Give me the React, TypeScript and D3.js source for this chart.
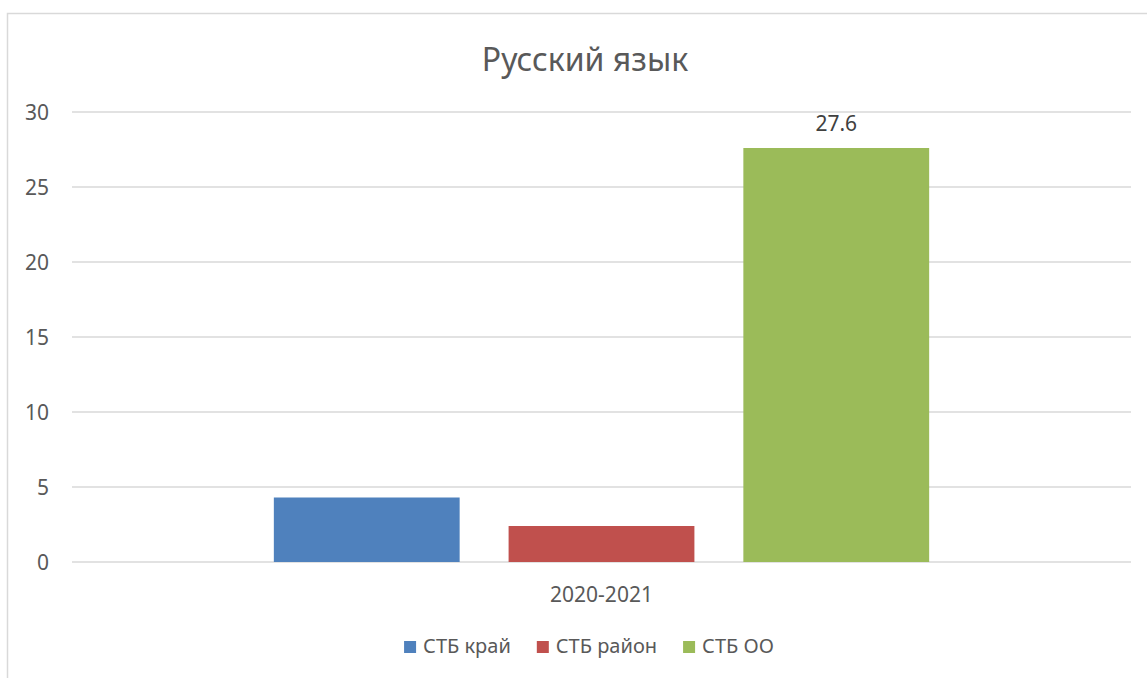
import * as d3 from "d3";
import React, { useEffect, useRef } from "react";

const chartTitle = "Русский язык";
const categories = ["2020-2021"];
const seriesNames = ["СТБ край", "СТБ район", "СТБ ОО"];
const seriesValues = [4.3, 2.4, 27.6];
const seriesColors = ["#4F81BD", "#C0504D", "#9BBB59"];
const showLabel = [false, false, true];
const yTicks = [0, 5, 10, 15, 20, 25, 30];

const width = 1147;
const height = 678;
const font = "'Noto Sans', sans-serif";

const App = () => {
  const ref = useRef<SVGSVGElement>(null);

  useEffect(() => {
    const svg = d3.select(ref.current);
    svg.selectAll("*").remove();

    const left = 72;
    const right = 1131;
    const top = 112;
    const bottom = 562;

    // chart frame (cut off on the right and bottom, like the source image)
    svg
      .append("rect")
      .attr("x", 7.5)
      .attr("y", 13.5)
      .attr("width", 1200)
      .attr("height", 700)
      .attr("fill", "#fff")
      .attr("stroke", "#d9d9d9")
      .attr("stroke-width", 1.5);

    svg
      .append("text")
      .attr("x", 585)
      .attr("y", 71)
      .attr("text-anchor", "middle")
      .attr("fill", "#595959")
      .style("font-family", font)
      .style("font-size", "32px")
      .text(chartTitle);

    const y = d3.scaleLinear().domain([0, 30]).range([bottom, top]);
    const x0 = d3
      .scaleBand()
      .domain(categories)
      .range([left, right])
      .paddingInner(0)
      .paddingOuter(0.308);
    const x1 = d3
      .scaleBand()
      .domain(seriesNames)
      .range([0, x0.bandwidth()])
      .paddingInner(0.2085)
      .paddingOuter(0);

    // grid
    svg
      .append("g")
      .selectAll("line")
      .data(yTicks)
      .join("line")
      .attr("x1", left)
      .attr("x2", right)
      .attr("y1", (d) => y(d))
      .attr("y2", (d) => y(d))
      .attr("stroke", "#d9d9d9")
      .attr("stroke-width", 1.5);

    svg
      .append("g")
      .selectAll("text")
      .data(yTicks)
      .join("text")
      .attr("x", 49)
      .attr("y", (d) => y(d))
      .attr("dy", "0.36em")
      .attr("text-anchor", "end")
      .attr("fill", "#595959")
      .style("font-family", font)
      .style("font-size", "21px")
      .text((d) => d);

    // bars
    categories.forEach((cat) => {
      const g = svg.append("g").attr("transform", `translate(${x0(cat)},0)`);
      g.selectAll("rect")
        .data(seriesNames)
        .join("rect")
        .attr("x", (d) => x1(d)!)
        .attr("y", (d, i) => y(seriesValues[i]))
        .attr("width", x1.bandwidth())
        .attr("height", (d, i) => bottom - y(seriesValues[i]))
        .attr("fill", (d, i) => seriesColors[i]);

      g.selectAll("text.lbl")
        .data(seriesNames.filter((_, i) => showLabel[i]))
        .join("text")
        .attr("class", "lbl")
        .attr("x", (d) => x1(d)! + x1.bandwidth() / 2)
        .attr("y", (d) => y(seriesValues[seriesNames.indexOf(d)]) - 17)
        .attr("text-anchor", "middle")
        .attr("fill", "#404040")
        .style("font-family", font)
        .style("font-size", "21px")
        .text((d) => seriesValues[seriesNames.indexOf(d)]);

      svg
        .append("text")
        .attr("x", x0(cat)! + x0.bandwidth() / 2)
        .attr("y", 602)
        .attr("text-anchor", "middle")
        .attr("fill", "#595959")
        .style("font-family", font)
        .style("font-size", "21px")
        .text(cat);
    });

    // legend
    const legend = svg.append("g");
    const items = legend
      .selectAll("g")
      .data(seriesNames)
      .join("g");
    items
      .append("rect")
      .attr("width", 12)
      .attr("height", 12)
      .attr("y", -12)
      .attr("fill", (d, i) => seriesColors[i]);
    const texts = items
      .append("text")
      .attr("x", 19)
      .attr("fill", "#595959")
      .style("font-family", font)
      .style("font-size", "20px")
      .text((d) => d);
    let pos = 0;
    const offsets: number[] = [];
    texts.each(function () {
      offsets.push(pos);
      pos += 19 + (this as SVGTextElement).getComputedTextLength() + 26;
    });
    const total = pos - 26;
    items.attr("transform", (d, i) => `translate(${offsets[i]},0)`);
    legend.attr("transform", `translate(${589 - total / 2},653)`);
  }, []);

  return (
    <svg
      ref={ref}
      width={width}
      height={height}
      style={{ position: "absolute", left: 0, top: 0, background: "#fff" }}
    ></svg>
  );
};

export default App;
